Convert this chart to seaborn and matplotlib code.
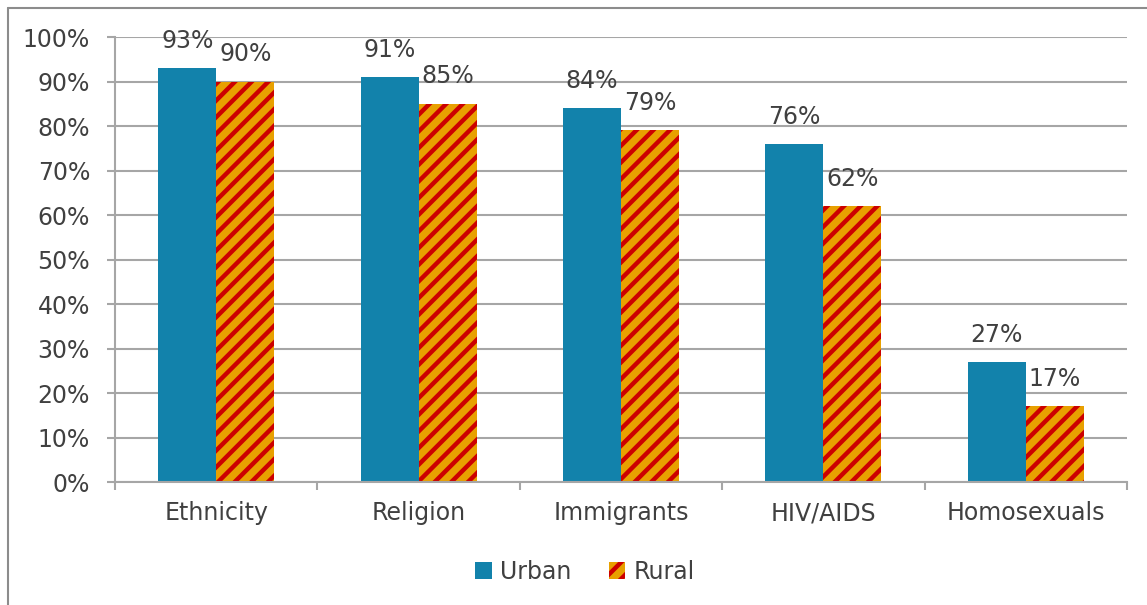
import matplotlib
matplotlib.use("Agg")
import matplotlib.pyplot as plt
import matplotlib.patches as mpatches
from matplotlib.lines import Line2D
import pandas as pd
import seaborn as sns

CATEGORIES = ["Ethnicity", "Religion", "Immigrants", "HIV/AIDS", "Homosexuals"]
URBAN = [93, 91, 84, 76, 27]
RURAL = [90, 85, 79, 62, 17]
SERIES = ["Urban", "Rural"]
Y_TICKS = list(range(0, 101, 10))

URBAN_COLOR = "#1282AB"
RURAL_COLOR = "#E8A000"
STRIPE_COLOR = "#CC0000"
GRID_COLOR = "#A6A6A6"
TEXT_COLOR = "#404040"

sns.set_style("white")
plt.rcParams["font.family"] = ["DejaVu Sans"]
plt.rcParams["hatch.linewidth"] = 3.2
plt.rcParams["hatch.color"] = STRIPE_COLOR

df = pd.DataFrame({
    "category": CATEGORIES * 2,
    "value": URBAN + RURAL,
    "series": ["Urban"] * len(CATEGORIES) + ["Rural"] * len(CATEGORIES),
})

fig = plt.figure(figsize=(11.47, 6.05), dpi=100)
ax = fig.add_axes([0.1003, 0.2033, 0.8823, 0.7355])

sns.barplot(
    data=df, x="category", y="value", hue="series", hue_order=SERIES,
    order=CATEGORIES, palette={"Urban": URBAN_COLOR, "Rural": RURAL_COLOR},
    width=0.573, gap=0, saturation=1, ax=ax, legend=False,
)

for bar in ax.containers[0]:
    bar.set_linewidth(0)
for bar in ax.containers[1]:
    bar.set_hatch("//")
    bar.set_edgecolor(STRIPE_COLOR)
    bar.set_linewidth(0)

for cont in ax.containers:
    ax.bar_label(cont, labels=[f"{v:.0f}%" for v in cont.datavalues],
                 padding=11, fontsize=17, color=TEXT_COLOR)

ax.set_ylim(0, 100)
ax.set_xlim(-0.5, len(CATEGORIES) - 0.5)
ax.set_yticks(Y_TICKS)
ax.set_yticklabels([f"{t}%" for t in Y_TICKS])
ax.set_xticks(range(len(CATEGORIES)))
ax.set_xticklabels(CATEGORIES)
ax.set_xticks([i - 0.5 for i in range(len(CATEGORIES) + 1)], minor=True)
ax.set_xlabel("")
ax.set_ylabel("")

ax.yaxis.grid(True, color=GRID_COLOR, linewidth=1.5)
ax.set_axisbelow(True)
for side in ["top", "right"]:
    ax.spines[side].set_visible(False)
for side in ["left", "bottom"]:
    ax.spines[side].set_color(GRID_COLOR)
    ax.spines[side].set_linewidth(1.5)

ax.tick_params(axis="y", which="major", direction="out", length=6, width=1.5,
               color=GRID_COLOR, labelsize=17, labelcolor=TEXT_COLOR, pad=12, left=True)
ax.tick_params(axis="x", which="major", length=0, labelsize=17,
               labelcolor=TEXT_COLOR, pad=14)
ax.tick_params(axis="x", which="minor", direction="out", length=6, width=1.5,
               color=GRID_COLOR, bottom=True)

handles = [
    mpatches.Patch(facecolor=URBAN_COLOR, linewidth=0, label="Urban"),
    mpatches.Patch(facecolor=RURAL_COLOR, edgecolor=STRIPE_COLOR, hatch="//",
                   linewidth=0, label="Rural"),
]
fig.legend(handles=handles, loc="center", bbox_to_anchor=(0.51, 0.055), ncol=2,
           frameon=False, fontsize=17, labelcolor=TEXT_COLOR,
           handlelength=0.7, handleheight=0.7, handletextpad=0.35, columnspacing=1.6)

# outer chart frame
fig.add_artist(Line2D([8 / 1147, 8 / 1147], [0, 1 - 8 / 605],
                      transform=fig.transFigure, color="#8C8C8C", linewidth=1.5))
fig.add_artist(Line2D([8 / 1147, 1], [1 - 8 / 605, 1 - 8 / 605],
                      transform=fig.transFigure, color="#8C8C8C", linewidth=1.5))

fig.savefig("out.png", dpi=100)
